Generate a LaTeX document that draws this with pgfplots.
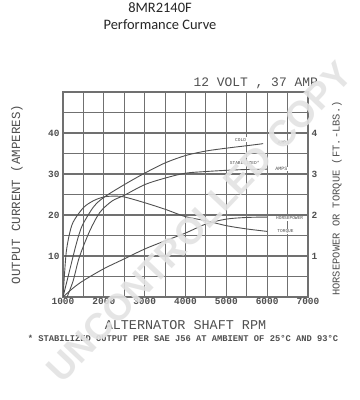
\documentclass[border=0pt]{standalone}
\usepackage{pgfplots}
\pgfplotsset{compat=1.18}
\usepackage{fontspec}
\setmainfont{Liberation Sans}
\newfontfamily\mono{Liberation Mono}
\newfontfamily\titlefont{Carlito}
\definecolor{ink}{HTML}{505050}
\definecolor{gridc}{HTML}{707070}
\begin{document}
\begin{tikzpicture}
\useasboundingbox (0bp,0bp) rectangle (360bp,400bp);
\fill[white] (0bp,0bp) rectangle (360bp,400bp);
\node[font=\titlefont\fontsize{14.5}{15}\selectfont, text=black!85] at (160bp,392bp) {8MR2140F};
\node[font=\titlefont\fontsize{14.5}{15}\selectfont, text=black!85] at (160bp,375bp) {Performance Curve};
\begin{axis}[at={(63bp,103bp)}, anchor=south west, scale only axis,
  width=245bp, height=205bp,
  xmin=1000, xmax=7000, ymin=0, ymax=50,
  xtick={1000,2000,...,7000}, minor xtick={1500,2500,...,6500},
  ytick={10,20,30,40}, minor ytick={5,15,...,45},
  grid=both,
  major grid style={gridc, line width=1.1pt},
  minor grid style={gridc, line width=1.1pt},
  axis line style={gridc, line width=1.1pt},
  tick style={draw=none},
  /pgf/number format/assume math mode=true,
  /pgf/number format/1000 sep={},
  x tick label style={font=\mono\bfseries\fontsize{9.5}{10}\selectfont, text=ink, yshift=2bp},
  y tick label style={font=\mono\bfseries\fontsize{9.5}{10}\selectfont, text=ink},
  xlabel={ALTERNATOR SHAFT RPM},
  xlabel style={font=\mono\fontsize{13.5}{14}\selectfont, text=ink, at={(axis description cs:0.5,0)}, anchor=center, yshift=-28bp},
  ylabel={OUTPUT CURRENT (AMPERES)},
  every axis y label/.style={font=\mono\fontsize{12.5}{13}\selectfont, text=ink, at={(axis description cs:-0.188,0.5)}, anchor=center, rotate=90},
  ytick pos=left, xtick pos=bottom,
]
% cold output
\addplot[ink, line width=0.9pt, smooth] coordinates {
(1000,0) (1100,4) (1200,8) (1300,12) (1400,15.5) (1500,18) (1750,22) (2000,24.3)
(2500,27.4) (3000,30.2) (3500,32.7) (4000,34.5) (4500,35.6) (5000,36.3) (5500,36.9) (5900,37.4)};
% stabilized hot output
\addplot[ink, line width=0.9pt, smooth] coordinates {
(1100,0) (1250,4) (1400,9.7) (1650,16) (1900,20.6) (2200,23.4) (2500,24.8)
(3000,27.4) (3500,29) (4000,30.2) (4500,30.6) (5000,30.9) (5500,31.1) (6000,31.2)};
% torque
\addplot[ink, line width=0.9pt, smooth] coordinates {
(1000,0) (1040,6) (1080,11) (1150,15) (1250,18.3) (1500,21.8) (1750,23.5) (2000,24.4)
(2250,24.6) (2500,24.4) (3000,23) (3500,21.4) (4000,19.6) (4500,18.6) (5000,17.4) (5500,16.6) (6000,16)};
% horsepower
\addplot[ink, line width=0.9pt, smooth] coordinates {
(1000,0) (1250,2.2) (1500,4) (2000,6.9) (2500,9.3) (3000,11.7) (3500,13.7)
(4000,15.6) (4500,17.8) (5000,19) (5500,19.4) (6000,19.5)};
\node[font=\mono\fontsize{4.5}{5}\selectfont, text=ink, fill=white, inner sep=0.6pt] at (axis cs:5350,38.4) {COLD};
\node[font=\mono\fontsize{4.5}{5}\selectfont, text=ink, fill=white, inner sep=0.6pt] at (axis cs:5450,32.6) {STABILIZED*};
\node[font=\mono\fontsize{5}{5}\selectfont, text=ink, fill=white, inner sep=0.6pt] at (axis cs:6400,37.6) {AMPS};
\node[font=\mono\fontsize{5}{5}\selectfont, text=ink, fill=white, inner sep=0.6pt] at (axis cs:6350,31.2) {AMPS};
\node[font=\mono\fontsize{4.5}{5}\selectfont, text=ink, fill=white, inner sep=0.8pt] at (axis cs:6550,19.2) {HORSEPOWER};
\node[font=\mono\fontsize{4.5}{5}\selectfont, text=ink, fill=white, inner sep=0.8pt] at (axis cs:6450,16) {TORQUE};
\end{axis}
\begin{axis}[at={(63bp,103bp)}, anchor=south west, scale only axis,
  width=245bp, height=205bp,
  xmin=1000, xmax=7000, ymin=0, ymax=5,
  axis x line=none, axis y line*=right,
  axis line style={gridc, line width=1.1pt},
  ytick={1,2,3,4}, tick style={draw=none},
  /pgf/number format/assume math mode=true,
  y tick label style={font=\mono\bfseries\fontsize{9.5}{10}\selectfont, text=ink},
  ylabel={HORSEPOWER OR TORQUE (FT.-LBS.)},
  every axis y label/.style={font=\mono\fontsize{10.5}{11}\selectfont, text=ink, at={(axis description cs:1.118,0.48)}, anchor=center, rotate=90},
]
\end{axis}
\node[font=\mono\fontsize{13}{13}\selectfont, text=ink, anchor=west] at (190bp,317bp) {12 VOLT , 37 AMP};
\node[font=\mono\bfseries\fontsize{8.8}{9}\selectfont, text=ink] at (183bp,62bp) {* STABILIZED OUTPUT PER SAE J56 AT AMBIENT OF 25°C AND 93°C};
\node[rotate=46.5, font=\bfseries\fontsize{37}{37}\selectfont, text=gray!22, opacity=0.9] at (199bp,178bp) {UNCONTROLLED COPY};
\end{tikzpicture}
\end{document}
